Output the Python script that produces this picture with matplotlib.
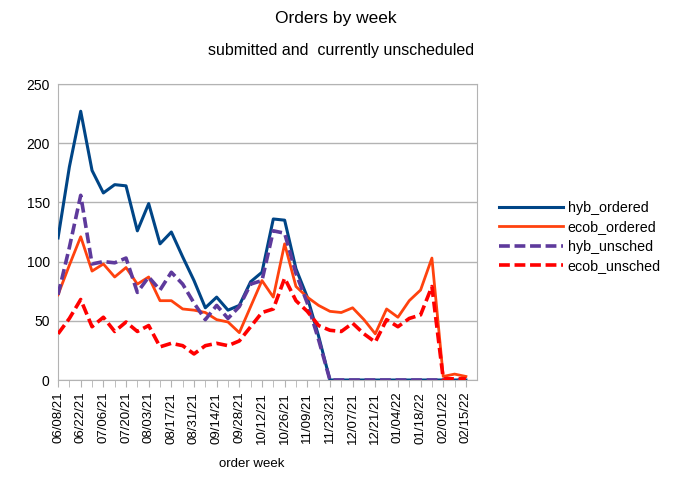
import matplotlib
matplotlib.use("Agg")
import matplotlib.pyplot as plt
import numpy as np
import pandas as pd

plt.rcParams['font.family'] = ['Liberation Sans', 'DejaVu Sans']

weeks = pd.date_range("2021-06-08", "2022-02-15", freq="7D")
week_labels = [d.strftime("%m/%d/%y") for d in weeks]

hyb_ordered = [120, 180, 227, 177, 158, 165, 164, 126, 149, 115, 125, 104, 84, 61, 70, 59, 63, 83,
               91, 136, 135, 94, 70, 37, 0, 0, 0, 0, 0, 0, 0, 0, 0, 0, 0, 0, 0]
ecob_ordered = [72, 97, 121, 92, 98, 87, 95, 81, 87, 67, 67, 60, 59, 57, 51, 49, 40, 62,
                84, 70, 115, 79, 70, 63, 58, 57, 61, 51, 39, 60, 53, 67, 76, 103, 3, 5, 3]
hyb_unsched = [72, 112, 156, 98, 100, 99, 103, 74, 87, 76, 91, 81, 65, 51, 63, 52, 62, 81,
               84, 126, 124, 90, 65, 34, 0, 0, 0, 0, 0, 0, 0, 0, 0, 0, 0, 0, 0]
ecob_unsched = [39, 52, 68, 45, 53, 41, 49, 41, 46, 28, 31, 29, 22, 29, 31, 29, 33, 45,
                57, 60, 86, 67, 58, 46, 42, 41, 48, 39, 32, 51, 45, 52, 55, 79, 1, 1, 1]

fig = plt.figure(figsize=(6.75, 4.82), dpi=100)
ax = fig.add_axes([0.086, 0.2116, 0.621, 0.6141])

x = np.arange(len(weeks))
ax.plot(x, hyb_ordered, color='#004586', lw=2.2, label='hyb_ordered', zorder=3)
ax.plot(x, ecob_ordered, color='#ff420e', lw=2.0, label='ecob_ordered', zorder=3)
ax.plot(x, hyb_unsched, color='#5e3a9c', lw=2.6, ls=(0, (3, 1.3)), label='hyb_unsched', zorder=4)
ax.plot(x, ecob_unsched, color='#ff0000', lw=2.6, ls=(0, (3, 1.3)), label='ecob_unsched', zorder=4)

ax.set_xlim(0, len(weeks))
ax.set_ylim(0, 250)
ax.set_yticks(range(0, 251, 50))
ax.set_xticks(x[::2])
ax.set_xticklabels(week_labels[::2], rotation=90, fontsize=9.5)
ax.set_xticks(x, minor=True)
ax.tick_params(axis='x', which='both', length=5, color='#b3b3b3', direction='out')
ax.tick_params(axis='y', length=0, labelsize=10, pad=6)
ax.grid(axis='y', color='#b3b3b3', lw=1)
ax.set_axisbelow(True)
for s in ax.spines.values():
    s.set_color('#b3b3b3')
ax.set_xlabel('order week', fontsize=9.5)
ax.xaxis.set_label_coords(0.461, -0.265)

fig.text(0.497, 0.977, 'Orders by week', ha='center', va='top', fontsize=12.5)
fig.text(0.505, 0.91, 'submitted and  currently unscheduled', ha='center', va='top', fontsize=11.5)

fig.legend(loc='center left', bbox_to_anchor=(0.72, 0.508), frameon=False, fontsize=10.3,
           handlelength=4.5, handletextpad=0.3, labelspacing=0.38)

fig.savefig('out.png', dpi=100)
